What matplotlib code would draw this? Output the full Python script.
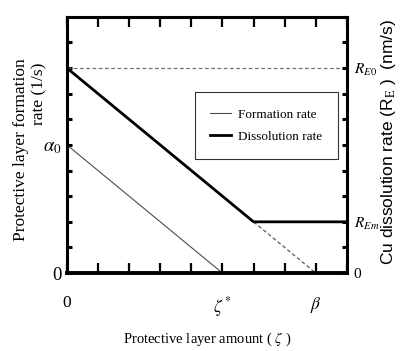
import matplotlib
matplotlib.use("Agg")
import matplotlib.pyplot as plt

plt.rcParams["font.family"] = ["Liberation Serif", "DejaVu Serif"]
plt.rcParams["mathtext.fontset"] = "stix"

# model curves (x in arbitrary layer units, y in arbitrary rate units)
form_x = [0, 5]
form_y = [5, 0]
diss_x = [0, 6, 9]
diss_y = [8, 2, 2]
ext_x = [6, 8]
ext_y = [2, 0]
re0_x = [0, 9]
re0_y = [8, 8]

xtick_pos = [0, 1, 2, 3, 4, 5, 6, 7, 8, 9]
xtick_lab = ["0", "", "", "", "", r"$\zeta^*$", "", "", r"$\beta$", ""]
left_pos = [0, 1, 2, 3, 4, 5, 6, 7, 8, 9, 10]
left_lab = ["0", "", "", "", "", r"$\alpha_0$", "", "", "", "", ""]
right_pos = [0, 1, 2, 3, 4, 5, 6, 7, 8, 9, 10]
right_lab = ["0", "", r"$R_{Em}$", "", "", "", "", "", r"$R_{E0}$", "", ""]

fig = plt.figure(figsize=(4.01, 3.51), dpi=100)
ax = fig.add_axes([0.167, 0.222, 0.698, 0.730])

ax.plot(re0_x, re0_y, color="0.45", lw=0.9, ls=(0, (3, 2)))
ax.plot(ext_x, ext_y, color="0.35", lw=0.9, ls=(0, (3, 2)))
ax.plot(form_x, form_y, color="0.3", lw=0.8, label="Formation rate")
ax.plot(diss_x, diss_y, color="black", lw=2.0, label="Dissolution rate")

ax.set_xlim(0, 9)
ax.set_ylim(0, 10)
for s in ax.spines.values():
    s.set_linewidth(2.2)
ax.spines["bottom"].set_linewidth(2.8)

ax.set_xticks(xtick_pos)
ax.set_xticklabels(xtick_lab, fontsize=12.5)
ax.tick_params(axis="x", direction="in", length=7, width=1.6, top=True, pad=16)
ax.set_yticks(left_pos)
ax.set_yticklabels(left_lab, fontsize=13.5)
ax.tick_params(axis="y", direction="in", length=3.5, width=2.2, pad=4)

ax2 = ax.twinx()
ax2.set_ylim(0, 10)
ax2.set_yticks(right_pos)
ax2.set_yticklabels(right_lab, fontsize=11)
ax2.tick_params(axis="y", direction="in", length=3.5, width=2.2, pad=5)
for s in ax2.spines.values():
    s.set_visible(False)

leg = ax.legend(loc="center", bbox_to_anchor=(0.712, 0.576), fontsize=9.5,
                frameon=True, fancybox=False, edgecolor="black", handlelength=1.6,
                handletextpad=0.5, borderpad=1.2, labelspacing=0.75)
leg.get_frame().set_linewidth(0.8)

ax.set_xlabel(r"Protective layer amount ( $\zeta$ )", fontsize=10.5, labelpad=8)
fig.text(0.052, 0.573, "Protective layer formation", rotation=90,
         ha="center", va="center", fontsize=12.5)
fig.text(0.097, 0.732, "rate (1/s)", rotation=90,
         ha="center", va="center", fontsize=12.5)
fig.text(0.968, 0.595, r"Cu dissolution rate (R$_\mathrm{E}$ )  (nm/s)", rotation=90,
         ha="center", va="center", fontsize=12.5, family="Liberation Sans")

fig.savefig("out.png", dpi=100)
